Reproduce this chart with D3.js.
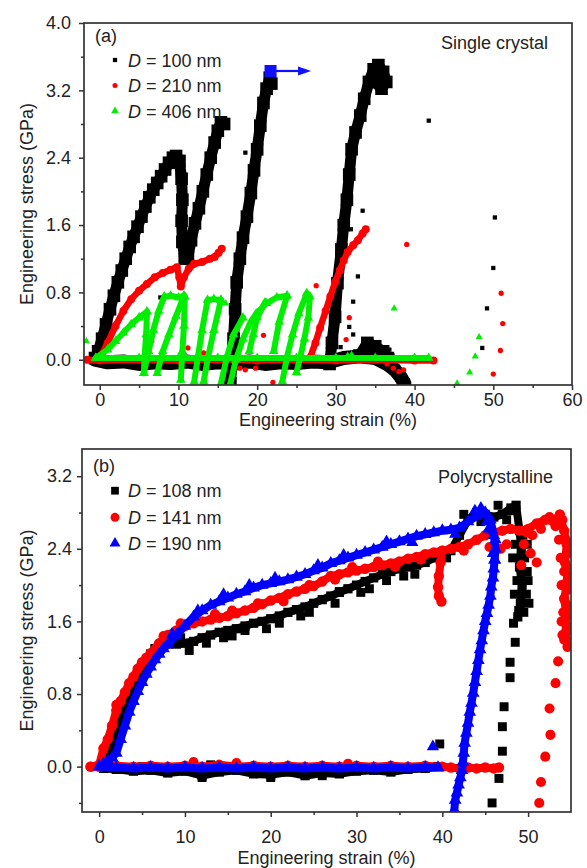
<!DOCTYPE html>
<html>
<head>
<meta charset="utf-8">
<script src="https://cdn.jsdelivr.net/npm/d3@7"></script>
<style>
  body { margin: 0; background: #fff; }
  svg { display: block; font-family: "Liberation Sans", Arial, sans-serif; }
</style>
</head>
<body>
<svg id="chart" width="587" height="868"></svg>
<script>
// ---------- Panel (a): single crystal pillars ----------
const aXTicks = [0, 10, 20, 30, 40, 50, 60];
const aXMinor = [5, 15, 25, 35, 45, 55];
const aYTicks = [0.0, 0.8, 1.6, 2.4, 3.2, 4.0];
const aYMinor = [0.4, 1.2, 2.0, 2.8, 3.6];
const aLegend = ["100", "210", "406"];

// D = 100 nm: dense loading branches (strain %, stress GPa)
const a100Bands = [
  [[-0.6,0.02],[-0.2,0.1],[0.3,0.25],[0.8,0.42],[1.3,0.6],[1.8,0.76],[2.3,0.92],[2.8,1.06],[3.3,1.2],[3.8,1.34],[4.3,1.46],[4.8,1.58],[5.3,1.7],[5.8,1.82],[6.3,1.93],[6.8,2.02],[7.3,2.1],[7.8,2.18],[8.3,2.26],[8.8,2.34],[9.3,2.4],[9.7,2.42],[10.1,2.36]],
  [[10.1,2.36],[10.4,2.15],[10.5,1.9],[10.4,1.65],[10.5,1.4],[10.8,1.2],[11.2,1.22],[11.6,1.42],[12.1,1.62],[12.6,1.8],[13.1,2.0],[13.6,2.2],[14.1,2.4],[14.6,2.58],[15.0,2.72],[15.4,2.82],[15.8,2.8]],
  [[16.6,-0.28],[16.8,-0.05],[17.0,0.25],[17.2,0.6],[17.4,0.92],[17.8,1.2],[18.2,1.45],[18.7,1.7],[19.2,1.98],[19.6,2.25],[20.0,2.5],[20.4,2.78],[20.8,3.05],[21.2,3.22],[21.6,3.35],[21.8,3.28]],
  [[29.2,-0.05],[29.5,0.2],[29.9,0.51],[30.2,0.91],[30.7,1.31],[31.0,1.6],[31.4,1.9],[31.7,2.2],[32.0,2.5],[32.5,2.7],[33.1,2.9],[33.6,3.1],[34.2,3.3],[34.8,3.45],[35.4,3.5],[36.0,3.42],[36.4,3.3],[35.8,3.22],[35.0,3.3]],
  [[33.0,0.05],[34.0,0.2],[35.0,0.16],[36.0,0.1],[36.6,0.02]]
];
// D = 100 nm: unloaded return along zero stress
const a100Baseline = [
  [[-0.6,0.0],[1,-0.03],[3,-0.02],[5,-0.05],[7,-0.03],[9,-0.04],[11,-0.02],[13,-0.05],[15,-0.03],[17,-0.04],[19,-0.02],[21,-0.05],[23,-0.03],[25,-0.04],[27,-0.02],[29,-0.03],[31,0.02],[33,0.04],[35,0.02],[36.5,-0.05],[37.5,-0.12],[38.2,-0.2],[38.7,-0.28]]
];
const a100Points = [[41.8,2.84],[50.2,1.69],[50.0,1.09],[49.2,0.61],[48.6,0.14],[33.4,1.77],[32.8,0.99],[32.2,0.69],[31.7,0.39],[32.2,0.3],[18.5,2.46],[7.7,0.74],[30.6,0.15],[18.8,1.95],[31.9,1.55],[36.8,0.12],[37.2,0.05]];

// D = 210 nm
const a210Bands = [
  [[-1.6,0.0],[0,-0.01],[5,0.0],[10,-0.01],[15,0.0],[20,-0.01],[25,0.0],[30,-0.01],[35,0.0],[40,-0.01],[42.4,-0.01]],
  [[0.2,0.05],[1,0.2],[2,0.4],[3,0.58],[4,0.72],[5,0.82],[6,0.9],[7,0.98],[8,1.03],[9,1.07],[9.8,1.1],[10.1,0.98],[10.3,0.87],[10.7,0.98],[11.3,1.08],[12,1.14],[13,1.16],[14,1.2],[14.6,1.22],[15.1,1.27],[15.5,1.32]],
  [[26.7,0.02],[27.4,0.2],[28.0,0.38],[28.7,0.58],[29.3,0.75],[29.9,0.92],[30.5,1.06],[31.0,1.18],[31.5,1.28],[32.2,1.36],[32.8,1.42],[33.4,1.5],[33.8,1.55]]
];
const a210Points = [[39.0,1.37],[27.5,0.88],[31.7,0.5],[31.3,0.24],[51.0,0.79],[51.2,0.43],[50.9,0.11],[50.0,-0.17],[20.8,0.29],[6.6,0.22],[11.2,0.14],[13.2,0.08],[17.8,-0.1],[18.5,-0.12],[19.8,-0.1],[22.0,-0.27],[37.3,-0.1],[38.0,-0.14],[38.6,-0.12],[36.5,-0.05]];

// D = 406 nm: repeated load/unload loops
const a406Bands = [
  [[-0.5,0.02],[5,0.02],[10,0.02],[15,0.02],[20,0.02],[25,0.02],[30,0.02],[35,0.02],[40,0.02],[41.8,0.02]],
  [[-0.5,0.02],[1,0.12],[2,0.22],[3,0.32],[4,0.42],[5,0.5],[6,0.57]],
  [[6,0.57],[5.9,0.3],[5.7,0.05],[5.6,-0.16]],
  [[5.6,-0.16],[6.2,0.1],[6.8,0.35],[7.5,0.58],[8.2,0.75],[9,0.76],[10,0.74],[10.7,0.76]],
  [[7.3,-0.16],[8,0.1],[8.8,0.3],[9.7,0.52],[10.7,0.76]],
  [[10.8,0.75],[10.7,0.4],[10.5,0.1],[10.3,-0.24]],
  [[12.0,-0.26],[12.5,0.05],[13,0.35],[13.7,0.71],[14.5,0.72],[15.4,0.71]],
  [[13.2,-0.26],[13.8,0.05],[14.5,0.35],[15.4,0.71]],
  [[15.4,-0.28],[16.2,0.05],[17,0.3],[18.2,0.5]],
  [[16.6,-0.28],[17.3,0.0],[18.2,0.25],[19.2,0.45],[19.9,0.55],[21.2,0.67],[22.5,0.74],[23.8,0.76]],
  [[19.0,0.1],[19.5,0.3],[20,0.5],[21,0.68]],
  [[22.1,0.1],[22.8,0.45],[23.8,0.76]],
  [[23.2,-0.26],[23.8,0.04],[24.5,0.3],[25.3,0.55],[26.3,0.79],[26.7,0.75],[26.5,0.5],[26,0.25],[25.5,0.04],[25.0,-0.15]]
];
const a406Points = [[37.4,0.61],[48.2,0.27],[47.7,0.04],[47.0,-0.15],[45.4,-0.28],[16.0,0.67],[-1.7,0.22],[31.5,0.05],[32.0,0.06]];

// Blue marker with arrow on the second spike
const aMarkerPoint = [21.7, 3.43];
const aMarkerArrowTo = 26.85;

// ---------- Panel (b): polycrystalline pillars ----------
const bXTicks = [0, 10, 20, 30, 40, 50];
const bXMinor = [5, 15, 25, 35, 45];
const bYTicks = [0.0, 0.8, 1.6, 2.4, 3.2];
const bYMinor = [-0.4, 0.4, 1.2, 2.0, 2.8];
const bLegend = ["108", "141", "190"];

// D = 108 nm
const b108Bands = [
  [[0.5,-0.02],[2,-0.03],[4,-0.05],[6,-0.04],[8,-0.07],[10,-0.05],[12,-0.1],[14,-0.06],[16,-0.04],[18,-0.08],[20,-0.09],[22,-0.06],[24,-0.1],[26,-0.07],[28,-0.08],[30,-0.05],[32,-0.04],[34,-0.06],[36,-0.03],[38,-0.02],[39.5,0.0]],
  [[0.2,0.0],[1,0.1],[1.5,0.2],[2,0.35],[2.5,0.5],[3,0.62],[3.5,0.75],[4,0.85],[4.5,0.95],[5,1.05],[5.5,1.15],[6,1.24],[6.5,1.3],[7,1.33],[8,1.35],[9,1.35],[10,1.36],[11,1.38],[12,1.42],[13,1.45],[14,1.48],[15,1.5],[16,1.52],[17,1.55],[18,1.58],[19,1.6],[20,1.63],[21,1.66],[22,1.7],[23,1.73],[24,1.76],[25,1.8],[26,1.84],[27,1.88],[28,1.92],[29,1.96],[30,2.0],[31,2.04],[32,2.08],[33,2.12],[34,2.15],[35,2.18],[36,2.2],[37,2.22],[38,2.25],[39,2.3],[40,2.33],[41,2.38],[42,2.55],[43,2.72],[44,2.8],[45,2.78],[46,2.75],[47,2.78],[48,2.85],[48.6,2.88],[49,2.6],[49.2,2.4],[49,2.2],[49.3,2.0],[49.1,1.8],[48.8,1.65]]
];
const b108Points = [[48.3,1.58],[48.5,1.37],[47.9,1.15],[47.9,0.98],[47.2,0.66],[47.0,0.44],[47.0,0.17],[46.6,-0.13],[45.8,-0.4],[39.7,0.25],
  [10.5,1.28],[12.5,1.36],[14.5,1.42],[17,1.5],[19.5,1.52],[21,1.58],[23.5,1.66],[27.5,1.8],[28,1.93],[31.5,1.96],[33.5,2.05],[36.8,2.12],[37.5,2.28],[40.5,2.3],[42.5,2.78],[44.5,2.7],[46.5,2.88],[47.5,2.72],[48.2,2.82],[49.6,2.3],[48.5,2.45],[49.8,1.9],[48.7,2.05],[49.5,1.7],[49.9,2.15],[12,-0.12],[20,-0.12],[26,-0.1],[13,0.02],[5,0.0],
  [48.2,2.3],[49.9,2.45],[48.4,1.9],[49.4,2.55],[50.1,1.8],[48.9,1.72],[50.0,2.05],[9.5,1.42],[15.5,1.44],[24.5,1.7],[30.5,1.92],[35.5,2.1]];

// D = 141 nm
const b141Bands = [
  [[-1,0.0],[0,0.0],[2,0.01],[4,0.0],[6,0.01],[8,0.0],[10,0.01],[12,0.0],[14,0.02],[16,0.0],[18,0.01],[20,0.0],[22,0.01],[24,0.0],[26,0.01],[28,0.0],[30,0.01],[32,0.0],[34,0.01],[36,0.0],[38,0.01],[40,0.0],[41,-0.01],[42,-0.02],[43,-0.01],[44,-0.02],[45,-0.01],[46,-0.02],[46.6,-0.01]],
  [[-1,0.0],[0,0.02],[0.5,0.2],[1,0.3],[1.5,0.45],[2,0.62],[2.5,0.72],[3,0.82],[3.5,0.92],[4,0.99],[4.5,1.08],[5,1.15],[5.5,1.2],[6,1.25],[7,1.36],[8,1.45],[9,1.5],[10,1.55],[11,1.58],[12,1.6],[13,1.62],[14,1.64],[15,1.66],[16,1.69],[17,1.72],[18,1.75],[19,1.79],[20,1.83],[21,1.86],[22,1.9],[23,1.93],[24,1.96],[25,1.99],[26,2.04],[27,2.1],[28,2.12],[29,2.14],[30,2.16],[31,2.18],[32,2.2],[33,2.22],[34,2.24],[35,2.26],[36,2.29],[37,2.31],[38,2.34],[39,2.36],[40,2.38],[41,2.4],[42,2.42],[43,2.45],[44,2.5],[45,2.55],[46,2.58],[47,2.6],[48,2.62],[49,2.6],[50,2.62],[51,2.68],[52,2.72],[53,2.7],[53.7,2.78],[54.2,2.6],[54.5,2.45],[54.3,2.25],[54.6,2.05],[54.2,1.85],[54.5,1.65],[54.3,1.45],[54.6,1.32]],
  [[40,2.38],[39.8,2.25],[39.6,2.1],[39.5,1.98],[39.6,1.88],[39.9,1.82]]
];
const b141Points = [[53.5,1.16],[53.2,0.92],[52.5,0.64],[52.6,0.35],[52.0,0.11],[51.5,-0.17],[51.3,-0.4],
  [50.5,2.55],[51.5,2.62],[52.5,2.75],[53.2,2.65],[54.0,2.72],[54.4,2.5],[54.8,2.35],[54.2,2.15],[54.7,1.95],[54.1,1.7],[54.6,1.55],[54.2,1.4],[54.8,1.5],[49.5,2.45],[50.3,2.35],[51,2.25],[49.8,2.58],[47.5,2.45],[46.8,2.4],[45.5,2.42],[49.2,2.22],[2,0.68],[9.5,1.58],[15.5,1.72],[21.5,1.82],[24.5,2.0],[29.5,2.2],[34.5,2.2],[11,0.05],[16,0.04],[29,0.03],
  [53.8,2.3],[54.5,2.2],[53.9,2.0],[54.4,1.8],[53.9,1.6],[54.8,1.75],[54.0,1.45],[54.7,1.38],[54.9,2.1],[53.6,2.5],[7.5,1.44],[13.5,1.68],[18.5,1.8],[27.5,2.06],[32.5,2.26],[37.5,2.28],[42.5,2.38]];

// D = 190 nm
const b190Bands = [
  [[0,0.0],[2,-0.01],[4,-0.02],[6,-0.01],[8,-0.02],[10,-0.01],[12,-0.02],[14,-0.01],[16,-0.02],[18,-0.01],[20,-0.02],[22,-0.01],[24,-0.02],[26,-0.01],[28,-0.02],[30,-0.01],[32,-0.02],[34,-0.01],[36,-0.02],[38,-0.01],[39.5,-0.01]],
  [[0,0.0],[0.5,0.03],[1,0.06],[1.5,0.1],[2,0.15],[2.5,0.3],[3,0.45],[3.5,0.6],[4,0.72],[4.5,0.83],[5,0.93],[5.5,1.02],[6,1.1],[6.5,1.18],[7,1.24],[7.5,1.3],[8,1.35],[9,1.45],[10,1.55],[11,1.65],[12,1.72],[13,1.78],[14,1.82],[15,1.86],[16,1.9],[17,1.93],[18,1.97],[19,2.0],[20,2.02],[21,2.04],[22,2.06],[23,2.09],[24,2.12],[25,2.16],[26,2.19],[27,2.24],[28,2.27],[29,2.3],[30,2.33],[31,2.36],[32,2.39],[33,2.42],[34,2.45],[35,2.48],[36,2.51],[37,2.54],[38,2.56],[39,2.58],[40,2.6],[41,2.61],[42,2.63],[43,2.7],[44,2.76],[45,2.8],[45.6,2.72],[46,2.55],[46.2,2.4],[46.1,2.28]],
  [[46.1,2.28],[46.0,2.18],[45.9,2.08],[45.7,1.98],[45.6,1.88],[45.4,1.78],[45.2,1.69],[45.0,1.6],[44.8,1.5],[44.6,1.39],[44.4,1.29],[44.2,1.17],[44.0,1.05],[43.8,0.93],[43.6,0.81],[43.4,0.7],[43.2,0.6],[43.0,0.48],[42.8,0.37],[42.6,0.26],[42.5,0.15],[42.4,0.05],[42.3,-0.04],[42.1,-0.12],[41.9,-0.2],[41.7,-0.29],[41.5,-0.37],[41.4,-0.48]]
];
const b190Points = [[38.9,0.22],[43.8,2.82],[44.5,2.85],[45.2,2.7],[45.8,2.6],[46.2,2.5],[45.9,2.35],[45.4,2.62],[11.5,1.72],[17.5,2.0],[25.5,2.22],[33.5,2.48],
  [8.5,1.46],[14.5,1.9],[20.5,2.08],[28.5,2.33],[36.5,2.47],[41.5,2.56]];

// ---------- drawing ----------
const svg = d3.select("#chart");
const FONT = 18;
const TEXT = "#222";

function drawPanel(cfg) {
  const x = d3.scaleLinear().domain(cfg.xDomain).range([cfg.left, cfg.right]);
  const y = d3.scaleLinear().domain(cfg.yDomain).range([cfg.bottom, cfg.top]);
  const g = svg.append("g");

  svg.append("clipPath").attr("id", cfg.id + "-clip")
    .append("rect")
    .attr("x", cfg.left).attr("y", cfg.top)
    .attr("width", cfg.right - cfg.left).attr("height", cfg.bottom - cfg.top);

  // axes: major ticks with labels, minor ticks without
  const styleAxis = sel => {
    sel.select(".domain").remove();
    sel.selectAll(".tick line").attr("stroke", "#333").attr("stroke-width", 1.5);
    sel.selectAll(".tick text").attr("font-size", FONT).attr("fill", TEXT)
      .attr("font-family", "'Liberation Sans', Arial, sans-serif");
  };
  g.append("g").attr("transform", `translate(0,${cfg.bottom})`)
    .call(d3.axisBottom(x).tickValues(cfg.xTicks).tickSize(5).tickPadding(cfg.xPad).tickFormat(d3.format("d")))
    .call(styleAxis);
  g.append("g").attr("transform", `translate(0,${cfg.bottom})`)
    .call(d3.axisBottom(x).tickValues(cfg.xMinor).tickSize(3).tickFormat(""))
    .call(styleAxis);
  g.append("g").attr("transform", `translate(${cfg.left},0)`)
    .call(d3.axisLeft(y).tickValues(cfg.yTicks).tickSize(5).tickPadding(cfg.yPad).tickFormat(d3.format(".1f")))
    .call(styleAxis);
  g.append("g").attr("transform", `translate(${cfg.left},0)`)
    .call(d3.axisLeft(y).tickValues(cfg.yMinor).tickSize(3).tickFormat(""))
    .call(styleAxis);

  const plot = g.append("g").attr("clip-path", `url(#${cfg.id}-clip)`);

  // frame
  g.append("rect")
    .attr("x", cfg.left).attr("y", cfg.top)
    .attr("width", cfg.right - cfg.left).attr("height", cfg.bottom - cfg.top)
    .attr("fill", "none").attr("stroke", "#333").attr("stroke-width", 1.7);

  // axis titles
  g.append("text")
    .attr("x", (cfg.left + cfg.right) / 2).attr("y", cfg.xTitleY)
    .attr("text-anchor", "middle").attr("font-size", FONT).attr("fill", TEXT)
    .text("Engineering strain (%)");
  g.append("text")
    .attr("transform", `translate(33,${(cfg.top + cfg.bottom) / 2}) rotate(-90)`)
    .attr("text-anchor", "middle").attr("font-size", FONT).attr("fill", TEXT)
    .text("Engineering stress (GPa)");

  // panel tag and sample type
  g.append("text").attr("x", cfg.left + 11).attr("y", cfg.tagY)
    .attr("font-size", FONT).attr("fill", TEXT).text(cfg.tag);
  g.append("text").attr("x", cfg.nameX).attr("y", cfg.nameY)
    .attr("text-anchor", "end").attr("font-size", FONT).attr("fill", TEXT).text(cfg.name);

  return { x, y, g, plot };
}

function drawSeries(p, s) {
  const line = d3.line().x(d => p.x(d[0])).y(d => p.y(d[1]));
  const grp = p.plot.append("g");
  grp.selectAll("path.band").data(s.bands).join("path")
    .attr("class", "band")
    .attr("d", line)
    .attr("fill", "none")
    .attr("stroke", s.color)
    .attr("stroke-width", s.width)
    .attr("stroke-linejoin", "round")
    .attr("stroke-linecap", "round");
  const bandSym = d3.symbol().type(s.symbol).size(s.bandSize);
  grp.selectAll("path.vtx").data(s.bands.flat()).join("path")
    .attr("class", "vtx")
    .attr("transform", d => `translate(${p.x(d[0])},${p.y(d[1])})`)
    .attr("d", bandSym).attr("fill", s.color);
  const ptSym = d3.symbol().type(s.symbol).size(s.pointSize);
  grp.selectAll("path.pt").data(s.points).join("path")
    .attr("class", "pt")
    .attr("transform", d => `translate(${p.x(d[0])},${p.y(d[1])})`)
    .attr("d", ptSym).attr("fill", s.color);
}

function drawLegend(p, items, rowY, symSize) {
  items.forEach((it, i) => {
    p.g.append("path")
      .attr("transform", `translate(115,${rowY[i]})`)
      .attr("d", d3.symbol().type(it.symbol).size(symSize[i])())
      .attr("fill", it.color);
    const t = p.g.append("text").attr("x", 128).attr("y", rowY[i] + 6.5)
      .attr("font-size", FONT).attr("fill", TEXT);
    t.append("tspan").attr("font-style", "italic").text("D");
    t.append("tspan").text(` = ${it.label} nm`);
  });
}

// ----- panel (a) -----
const pa = drawPanel({
  id: "pa", left: 84, right: 572, top: 23, bottom: 385,
  xDomain: [-2, 60], yDomain: [-0.3, 4.0],
  xTicks: aXTicks, xMinor: aXMinor, yTicks: aYTicks, yMinor: aYMinor,
  xPad: 3, yPad: 8, xTitleY: 426,
  tag: "(a)", tagY: 42, name: "Single crystal", nameX: 548, nameY: 49
});
drawSeries(pa, { bands: a100Baseline, points: [], color: "#000", width: 14, symbol: d3.symbolSquare, bandSize: 110, pointSize: 18 });
drawSeries(pa, { bands: a100Bands, points: a100Points, color: "#000", width: 11, symbol: d3.symbolSquare, bandSize: 160, pointSize: 18 });
drawSeries(pa, { bands: a210Bands, points: a210Points, color: "#ff0000", width: 6.5, symbol: d3.symbolCircle, bandSize: 50, pointSize: 22 });
drawSeries(pa, { bands: a406Bands, points: a406Points, color: "#00ee00", width: 6, symbol: d3.symbolTriangle, bandSize: 40, pointSize: 22 });

// blue marker with arrow
(function () {
  const cx = pa.x(aMarkerPoint[0]), cy = pa.y(aMarkerPoint[1]);
  const tip = pa.x(aMarkerArrowTo);
  pa.g.append("line").attr("x1", cx + 5).attr("x2", tip - 10).attr("y1", cy).attr("y2", cy)
    .attr("stroke", "#1010ff").attr("stroke-width", 2.2);
  pa.g.append("path")
    .attr("d", `M${tip},${cy} L${tip - 13},${cy - 4.5} L${tip - 13},${cy + 4.5} Z`)
    .attr("fill", "#1010ff");
  pa.g.append("rect").attr("x", cx - 6).attr("y", cy - 6).attr("width", 12).attr("height", 12)
    .attr("fill", "#1010ff");
})();

drawLegend(pa, [
  { label: aLegend[0], color: "#000", symbol: d3.symbolSquare },
  { label: aLegend[1], color: "#ff0000", symbol: d3.symbolCircle },
  { label: aLegend[2], color: "#00ee00", symbol: d3.symbolTriangle }
], [60, 85.5, 111], [18, 20, 26]);

// ----- panel (b) -----
const pb = drawPanel({
  id: "pb", left: 82, right: 571, top: 449, bottom: 812,
  xDomain: [-2, 55], yDomain: [-0.5, 3.5],
  xTicks: bXTicks, xMinor: bXMinor, yTicks: bYTicks, yMinor: bYMinor,
  xPad: 13, yPad: 5, xTitleY: 864,
  tag: "(b)", tagY: 472, name: "Polycrystalline", nameX: 553, nameY: 483
});
drawSeries(pb, { bands: b108Bands, points: b108Points, color: "#000", width: 8, symbol: d3.symbolSquare, bandSize: 85, pointSize: 80 });
drawSeries(pb, { bands: b141Bands, points: b141Points, color: "#ff0000", width: 8, symbol: d3.symbolCircle, bandSize: 85, pointSize: 80 });
drawSeries(pb, { bands: b190Bands, points: b190Points, color: "#0000ff", width: 8, symbol: d3.symbolTriangle, bandSize: 70, pointSize: 65 });

drawLegend(pb, [
  { label: bLegend[0], color: "#000", symbol: d3.symbolSquare },
  { label: bLegend[1], color: "#ff0000", symbol: d3.symbolCircle },
  { label: bLegend[2], color: "#0000ff", symbol: d3.symbolTriangle }
], [490.7, 517.3, 543.3], [60, 62, 52]);
</script>
</body>
</html>
